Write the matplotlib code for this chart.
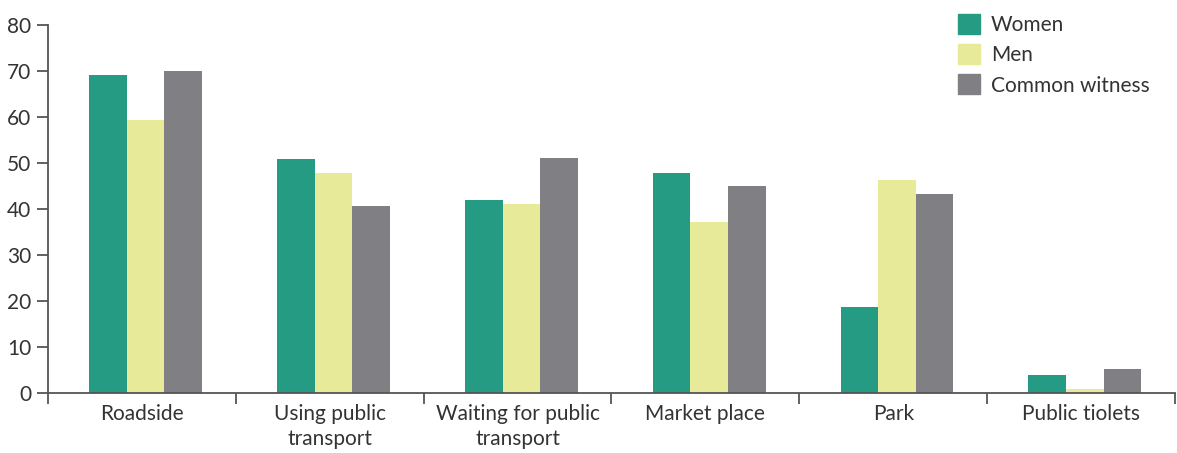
import numpy as np
import matplotlib
matplotlib.use("Agg")
import matplotlib.pyplot as plt
from matplotlib.patches import Patch

plt.rcParams['font.family'] = ['Lato', 'DejaVu Sans']

places = ["Roadside", "Using public\ntransport", "Waiting for public\ntransport",
          "Market place", "Park", "Public tiolets"]
women = [69.1, 50.9, 42.0, 47.8, 18.7, 3.9]
men = [59.3, 47.8, 41.1, 37.2, 46.3, 0.9]
common_witness = [70.0, 40.7, 51.1, 45.0, 43.3, 5.2]
y_ticks = [0, 10, 20, 30, 40, 50, 60, 70, 80]

c_women = '#259b83'
c_men = '#e7ea98'
c_common = '#808084'
axis_col = '#555555'
text_col = '#333333'

fig = plt.figure(figsize=(11.77, 4.53), dpi=100)
ax = fig.add_axes([48 / 1177, (453 - 393.3) / 453, 1127 / 1177, 368.3 / 453])

x = np.arange(len(places))
w = 0.2
ax.bar(x - w + 0.02, women, w, color=c_women, label="Women")
ax.bar(x + 0.02, men, w, color=c_men, label="Men")
ax.bar(x + w + 0.02, common_witness, w, color=c_common, label="Common witness")

ax.set_xlim(-0.5, len(places) - 0.5)
ax.set_ylim(0, 80)
ax.set_yticks(y_ticks)

# boundaries between groups carry the tick marks, names sit on minor ticks
ax.set_xticks(np.arange(len(places) + 1) - 0.5)
ax.set_xticklabels([])
ax.set_xticks(x, minor=True)
ax.set_xticklabels(places, minor=True, fontsize=15, color=text_col, linespacing=1.3)
ax.tick_params(axis='x', which='minor', length=0, pad=8)
ax.tick_params(axis='x', which='major', length=8, width=1.3, color=axis_col)
ax.tick_params(axis='y', length=8, width=1.3, color=axis_col, labelsize=15,
               labelcolor=text_col, pad=4)

for s in ['top', 'right']:
    ax.spines[s].set_visible(False)
for s in ['left', 'bottom']:
    ax.spines[s].set_color(axis_col)
    ax.spines[s].set_linewidth(1.3)

handles = [Patch(color=c_women), Patch(color=c_men), Patch(color=c_common)]
fig.legend(handles, ["Women", "Men", "Common witness"], loc='upper left',
           bbox_to_anchor=(944 / 1177, 1.0), frameon=False, fontsize=15,
           handlelength=1.1, handleheight=1.1, handletextpad=0.5,
           labelspacing=0.45, labelcolor=text_col, borderaxespad=0.25)

fig.savefig("out.png", dpi=100)
